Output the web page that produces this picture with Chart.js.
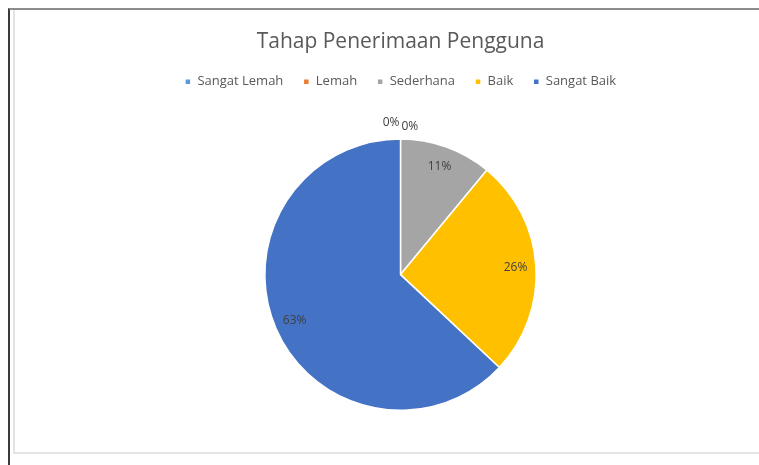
<!DOCTYPE html>
<html lang="en">
  <head>
    <meta charset="utf-8" />
    <title>Tahap Penerimaan Pengguna</title>
    <style>
      * {
        margin: 0;
        padding: 0;
      }
      body {
        width: 759px;
        height: 465px;
        background: #fff;
        position: relative;
        overflow: hidden;
      }
      .outer {
        position: absolute;
        left: 8px;
        top: 8px;
        width: 760px;
        height: 470px;
        border-top: 2px solid #8c8c8c;
        border-left: 2px solid #3a3a3a;
      }
      .inner {
        position: absolute;
        left: 13px;
        top: 10px;
        width: 760px;
        height: 442px;
        border-left: 2px solid #e4e4e4;
        border-bottom: 2px solid #e4e4e4;
      }
      .chartBox {
        position: absolute;
        left: 0;
        top: 0;
        width: 759px;
        height: 465px;
      }
    </style>
  </head>
  <body>
    <div class="outer"></div>
    <div class="inner"></div>
    <div class="chartBox">
      <canvas id="myChart"></canvas>
    </div>

    <script src="https://cdn.jsdelivr.net/npm/chart.js"></script>

    <script>
      const categories = ["Sangat Lemah", "Lemah", "Sederhana", "Baik", "Sangat Baik"];
      const percentages = [0, 0, 11, 26, 63];
      const sliceColors = ["#5B9BD5", "#ED7D31", "#A5A5A5", "#FFC000", "#4472C4"];

      // extra gap below the legend so the pie sits lower
      const legendGap = {
        id: "legendGap",
        beforeInit(chart) {
          const fit = chart.legend.fit;
          chart.legend.fit = function () {
            fit.bind(chart.legend)();
            this.height += 40;
          };
        },
      };

      // draws the percent labels, Excel style
      const pieLabels = {
        id: "pieLabels",
        afterDatasetsDraw(chart) {
          const { ctx } = chart;
          const meta = chart.getDatasetMeta(0);
          ctx.save();
          ctx.font = "12px 'Open Sans', sans-serif";
          ctx.fillStyle = "#404040";
          ctx.textAlign = "center";
          ctx.textBaseline = "middle";
          let zeroCount = 0;
          meta.data.forEach((arc, i) => {
            const { x, y, startAngle, endAngle, outerRadius } = arc.getProps(
              ["x", "y", "startAngle", "endAngle", "outerRadius"],
              true
            );
            const mid = (startAngle + endAngle) / 2;
            const text = percentages[i] + "%";
            if (percentages[i] === 0) {
              const w = ctx.measureText(text).width;
              const side = zeroCount === 0 ? -1 : 1;
              const r = outerRadius + (zeroCount === 0 ? 16 : 12);
              ctx.fillText(
                text,
                x + Math.cos(mid) * r + side * (w / 2 + 1),
                y + Math.sin(mid) * r
              );
              zeroCount++;
            } else {
              const r = outerRadius * 0.85;
              ctx.fillText(text, x + Math.cos(mid) * r, y + Math.sin(mid) * r);
            }
          });
          ctx.restore();
        },
      };

      const data = {
        labels: categories,
        datasets: [
          {
            data: percentages,
            backgroundColor: sliceColors,
            borderColor: "#ffffff",
            borderWidth: 1.5,
          },
        ],
      };

      const config = {
        type: "pie",
        data: data,
        options: {
          responsive: false,
          animation: false,
          layout: {
            padding: { left: 42, right: 0, top: 0, bottom: 54 },
          },
          plugins: {
            tooltip: { enabled: false },
            title: {
              display: true,
              text: "Tahap Penerimaan Pengguna",
              color: "#595959",
              font: { family: "'Open Sans', sans-serif", size: 21, weight: "normal" },
              padding: { top: 29, bottom: 1 },
            },
            legend: {
              position: "top",
              labels: {
                color: "#595959",
                font: { family: "'Open Sans', sans-serif", size: 13 },
                boxWidth: 6,
                boxHeight: 6,
                padding: 20,
              },
            },
          },
        },
        plugins: [legendGap, pieLabels],
      };

      const canvas = document.getElementById("myChart");
      canvas.width = 759;
      canvas.height = 465;
      const myChart = new Chart(canvas, config);
    </script>
  </body>
</html>
